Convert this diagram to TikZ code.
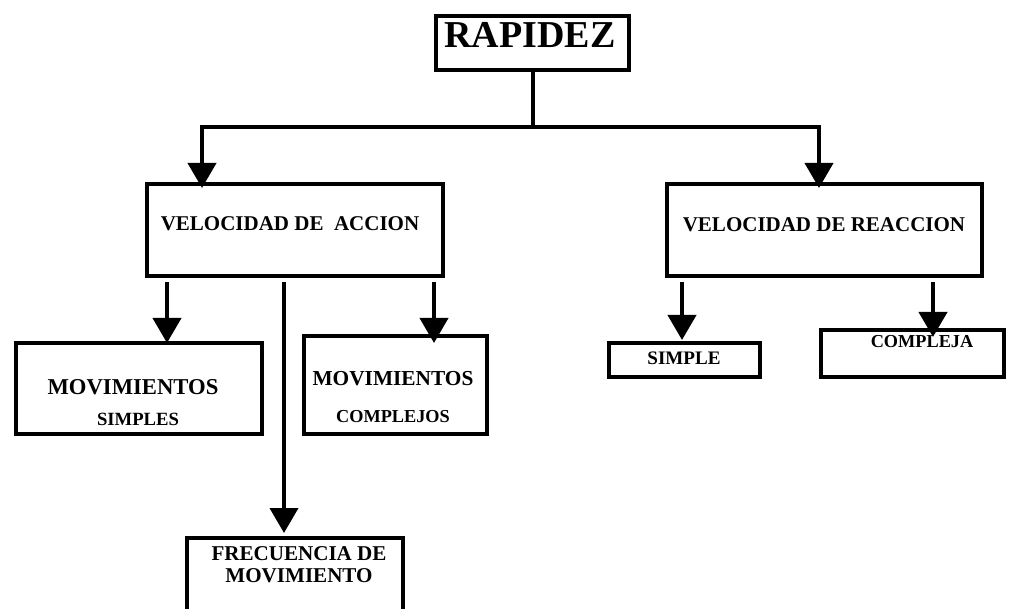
\documentclass[tikz,border=0pt]{standalone}
\usepackage{fontspec}
\setmainfont{Liberation Serif}
\usetikzlibrary{arrows.meta}
\begin{document}
\begin{tikzpicture}[x=0.75pt,y=-0.75pt,
  box/.style={draw,line width=3pt,inner sep=0pt,anchor=north west},
  link/.style={line width=3pt},
  arr/.style={line width=3pt,-{Triangle[length=18.75pt,width=21pt]}},
  lbl/.style={inner sep=0pt,anchor=base,font=\bfseries\fontsize{#1}{#1}\selectfont}]
\clip (0,0) rectangle (1014,609);
\fill[white] (0,0) rectangle (1014,609);

% boxes
\node[box,minimum width=144.75pt,minimum height=40.5pt] (rap) at (434,14) {};
\node[box,minimum width=222pt,minimum height=69pt] (va) at (145,182) {};
\node[box,minimum width=236.25pt,minimum height=69pt] (vr) at (665,182) {};
\node[box,minimum width=184.5pt,minimum height=68.25pt] (ms) at (14,341) {};
\node[box,minimum width=137.25pt,minimum height=73.5pt] (mc) at (302,334) {};
\node[box,minimum width=113.25pt,minimum height=25.5pt] (si) at (607,341) {};
\node[box,minimum width=137.25pt,minimum height=35.25pt] (co) at (819,328) {};
\node[box,minimum width=162pt,minimum height=78pt] (fm) at (185,536) {};

% labels (placed on their baselines)
\node[lbl=28.5] (trap) at (530,48) {RAPIDEZ};
\node[lbl=15.75] (tva) at (290,231) {VELOCIDAD DE\ \ ACCION};
\node[lbl=15.75] (tvr) at (824,232) {VELOCIDAD DE REACCION};
\node[lbl=17] (tms1) at (133,395) {MOVIMIENTOS};
\node[lbl=14] (tms2) at (138,426) {SIMPLES};
\node[lbl=16] (tmc1) at (393,386) {MOVIMIENTOS};
\node[lbl=13.7] (tmc2) at (393,423) {COMPLEJOS};
\node[lbl=14.3] (tsi) at (684,365) {SIMPLE};
\node[lbl=13.7] (tco) at (922,348) {COMPLEJA};
\node[lbl=15.8] (tfm1) at (299,560) {FRECUENCIA DE};
\node[lbl=15.8] (tfm2) at (299,582) {MOVIMIENTO};

% connectors
\coordinate (hub) at (530,127);
\coordinate (vaIn) at (202,188);
\coordinate (vrIn) at (819,188);
\draw[link] (rap.south) -- (rap.south |- hub);
\draw[arr] (rap.south |- hub) -| (vaIn);
\draw[arr] (rap.south |- hub) -| (vrIn);

\coordinate (vaA) at (167,282);
\coordinate (vaB) at (284,282);
\coordinate (vaC) at (434,282);
\coordinate (msIn) at (167,343);
\coordinate (mcIn) at (434,343);
\coordinate (fmIn) at (284,533);
\draw[arr] (vaA) -- (msIn);
\draw[arr] (vaC) -- (mcIn);
\draw[arr] (vaB) -- (fmIn);

\coordinate (vrA) at (682,282);
\coordinate (vrB) at (933,282);
\coordinate (siIn) at (682,340);
\coordinate (coIn) at (933,337);
\draw[arr] (vrA) -- (siIn);
\draw[arr] (vrB) -- (coIn);
\end{tikzpicture}
\end{document}
